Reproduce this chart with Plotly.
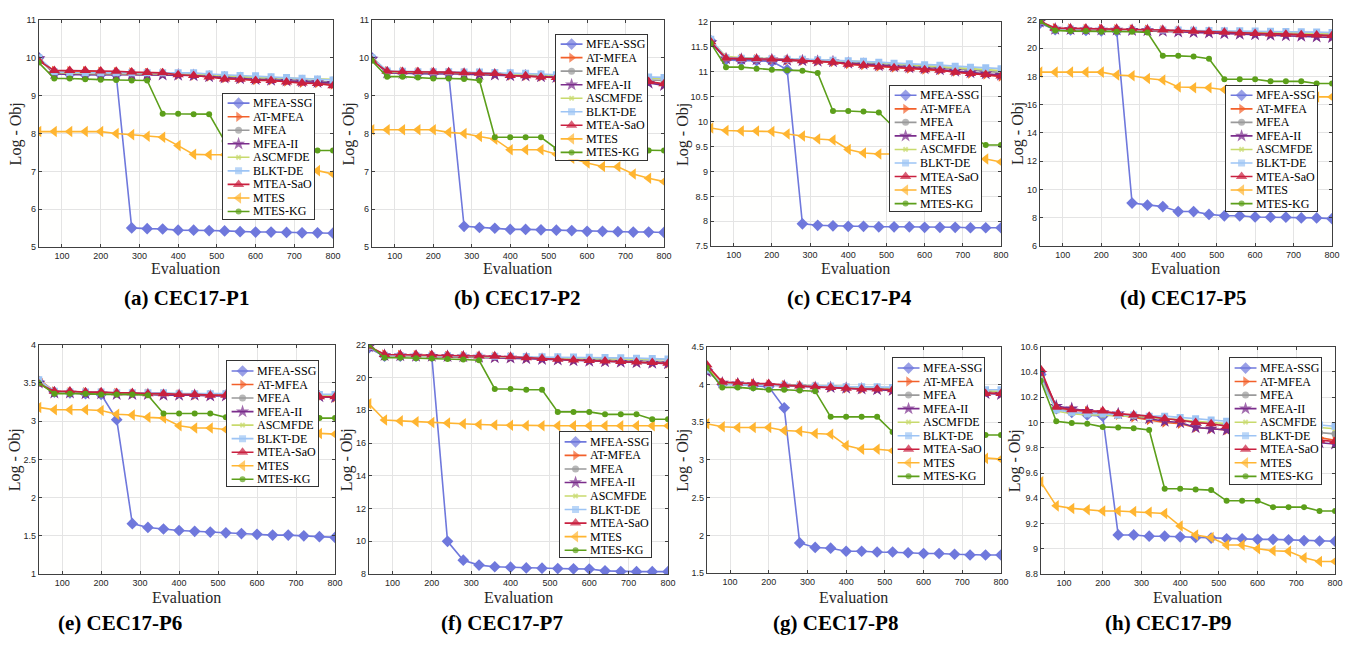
import plotly.graph_objects as go

W, H = 1346, 650

EVALS = [40, 80, 120, 160, 200, 240, 280, 320, 360, 400, 440, 480, 520, 560, 600, 640, 680, 720, 760, 800]
X_TICKS = [100, 200, 300, 400, 500, 600, 700, 800]
SERIES = ["MFEA-SSG", "AT-MFEA", "MFEA", "MFEA-II", "ASCMFDE", "BLKT-DE", "MTEA-SaO", "MTES", "MTES-KG"]
CAPTIONS = ["(a) CEC17-P1", "(b) CEC17-P2", "(c) CEC17-P4", "(d) CEC17-P5",
            "(e) CEC17-P6", "(f) CEC17-P7", "(g) CEC17-P8", "(h) CEC17-P9"]

# ---------------- (a) CEC17-P1 ----------------
P1_MFEA_SSG = [10.0, 9.58, 9.56, 9.55, 9.55, 9.55, 5.51, 5.49, 5.48, 5.45, 5.45, 5.44, 5.43, 5.41, 5.40, 5.40, 5.39, 5.38, 5.38, 5.37]
P1_AT_MFEA = [9.95, 9.65, 9.64, 9.64, 9.63, 9.62, 9.61, 9.60, 9.59, 9.55, 9.53, 9.50, 9.46, 9.44, 9.41, 9.40, 9.37, 9.34, 9.33, 9.29]
P1_MFEA = [9.97, 9.60, 9.58, 9.57, 9.57, 9.57, 9.57, 9.57, 9.57, 9.56, 9.55, 9.53, 9.50, 9.48, 9.46, 9.44, 9.42, 9.40, 9.38, 9.36]
P1_MFEA_II = [9.98, 9.58, 9.56, 9.55, 9.55, 9.55, 9.55, 9.55, 9.55, 9.54, 9.53, 9.50, 9.47, 9.45, 9.43, 9.41, 9.39, 9.37, 9.35, 9.33]
P1_ASCMFDE = [9.97, 9.61, 9.59, 9.58, 9.58, 9.58, 9.58, 9.58, 9.58, 9.58, 9.57, 9.55, 9.52, 9.50, 9.48, 9.47, 9.46, 9.45, 9.44, 9.43]
P1_BLKT_DE = [10.0, 9.63, 9.61, 9.60, 9.60, 9.60, 9.60, 9.60, 9.60, 9.60, 9.60, 9.57, 9.55, 9.53, 9.52, 9.50, 9.48, 9.46, 9.44, 9.41]
P1_MTEA_SaO = [9.92, 9.66, 9.66, 9.66, 9.65, 9.64, 9.62, 9.61, 9.60, 9.55, 9.53, 9.49, 9.44, 9.43, 9.40, 9.40, 9.36, 9.33, 9.32, 9.26]
P1_MTES = [8.05, 8.05, 8.05, 8.05, 8.05, 8.00, 7.97, 7.93, 7.90, 7.68, 7.45, 7.44, 7.44, 7.35, 7.26, 7.20, 7.14, 7.08, 7.02, 6.93]
P1_MTES_KG = [9.87, 9.45, 9.45, 9.43, 9.42, 9.41, 9.40, 9.40, 8.52, 8.52, 8.51, 8.51, 7.80, 7.78, 7.77, 7.66, 7.65, 7.64, 7.55, 7.55]

# ---------------- (b) CEC17-P2 ----------------
P2_MFEA_SSG = [10.0, 9.62, 9.60, 9.58, 9.58, 9.58, 5.55, 5.52, 5.50, 5.47, 5.47, 5.46, 5.45, 5.44, 5.42, 5.42, 5.41, 5.40, 5.40, 5.39]
P2_AT_MFEA = [9.95, 9.64, 9.63, 9.62, 9.61, 9.60, 9.59, 9.58, 9.56, 9.53, 9.52, 9.50, 9.48, 9.46, 9.45, 9.43, 9.40, 9.38, 9.36, 9.30]
P2_MFEA = [9.98, 9.62, 9.61, 9.60, 9.60, 9.60, 9.59, 9.58, 9.58, 9.56, 9.55, 9.53, 9.52, 9.50, 9.48, 9.46, 9.44, 9.42, 9.41, 9.40]
P2_MFEA_II = [9.97, 9.60, 9.59, 9.58, 9.58, 9.58, 9.57, 9.56, 9.55, 9.53, 9.52, 9.50, 9.48, 9.46, 9.44, 9.42, 9.39, 9.36, 9.33, 9.27]
P2_ASCMFDE = [10.02, 9.63, 9.62, 9.61, 9.61, 9.61, 9.60, 9.60, 9.59, 9.58, 9.57, 9.56, 9.54, 9.53, 9.52, 9.50, 9.49, 9.47, 9.46, 9.45]
P2_BLKT_DE = [10.0, 9.65, 9.64, 9.63, 9.63, 9.63, 9.62, 9.62, 9.61, 9.60, 9.59, 9.57, 9.55, 9.54, 9.53, 9.52, 9.51, 9.50, 9.49, 9.48]
P2_MTEA_SaO = [9.93, 9.64, 9.63, 9.63, 9.62, 9.62, 9.60, 9.59, 9.58, 9.53, 9.52, 9.49, 9.48, 9.46, 9.44, 9.42, 9.40, 9.38, 9.37, 9.31]
P2_MTES = [8.10, 8.10, 8.10, 8.10, 8.10, 8.03, 8.00, 7.92, 7.85, 7.57, 7.57, 7.57, 7.45, 7.35, 7.22, 7.13, 7.12, 6.93, 6.82, 6.73]
P2_MTES_KG = [9.92, 9.50, 9.50, 9.48, 9.45, 9.45, 9.44, 9.40, 7.90, 7.90, 7.90, 7.90, 7.60, 7.60, 7.59, 7.58, 7.57, 7.56, 7.55, 7.55]

# ---------------- (c) CEC17-P4 ----------------
P4_MFEA_SSG = [11.62, 11.24, 11.22, 11.22, 11.20, 11.04, 7.95, 7.92, 7.91, 7.90, 7.90, 7.89, 7.89, 7.89, 7.88, 7.88, 7.88, 7.87, 7.87, 7.87]
P4_AT_MFEA = [11.60, 11.27, 11.26, 11.25, 11.24, 11.23, 11.22, 11.21, 11.19, 11.15, 11.13, 11.10, 11.08, 11.06, 11.04, 11.03, 11.00, 10.96, 10.94, 10.90]
P4_MFEA = [11.62, 11.28, 11.27, 11.26, 11.25, 11.25, 11.24, 11.23, 11.21, 11.19, 11.18, 11.16, 11.14, 11.12, 11.10, 11.08, 11.06, 11.04, 11.01, 10.98]
P4_MFEA_II = [11.58, 11.26, 11.25, 11.24, 11.24, 11.23, 11.22, 11.21, 11.20, 11.17, 11.15, 11.12, 11.10, 11.08, 11.06, 11.04, 11.01, 10.98, 10.96, 10.93]
P4_ASCMFDE = [11.63, 11.30, 11.28, 11.27, 11.26, 11.26, 11.25, 11.24, 11.23, 11.21, 11.20, 11.18, 11.16, 11.14, 11.12, 11.10, 11.08, 11.06, 11.04, 11.02]
P4_BLKT_DE = [11.65, 11.28, 11.27, 11.26, 11.26, 11.25, 11.25, 11.24, 11.23, 11.22, 11.21, 11.19, 11.17, 11.16, 11.14, 11.13, 11.11, 11.09, 11.08, 11.06]
P4_MTEA_SaO = [11.60, 11.27, 11.26, 11.26, 11.25, 11.24, 11.22, 11.21, 11.19, 11.15, 11.13, 11.10, 11.08, 11.06, 11.04, 11.03, 10.99, 10.96, 10.94, 10.91]
P4_MTES = [9.87, 9.82, 9.81, 9.81, 9.80, 9.75, 9.71, 9.65, 9.63, 9.44, 9.37, 9.35, 9.35, 9.33, 9.31, 9.30, 9.28, 9.27, 9.25, 9.19]
P4_MTES_KG = [11.57, 11.09, 11.09, 11.06, 11.04, 11.03, 11.02, 10.97, 10.21, 10.21, 10.20, 10.18, 9.88, 9.87, 9.86, 9.72, 9.71, 9.70, 9.53, 9.53]

# ---------------- (d) CEC17-P5 ----------------
P5_MFEA_SSG = [21.75, 21.30, 21.28, 21.25, 21.22, 21.20, 9.05, 8.90, 8.80, 8.45, 8.45, 8.25, 8.15, 8.15, 8.07, 8.05, 8.05, 8.00, 8.00, 7.95]
P5_AT_MFEA = [21.90, 21.40, 21.38, 21.36, 21.35, 21.34, 21.32, 21.30, 21.27, 21.22, 21.18, 21.14, 21.10, 21.06, 21.02, 20.99, 20.96, 20.93, 20.90, 20.85]
P5_MFEA = [21.88, 21.30, 21.28, 21.27, 21.26, 21.25, 21.24, 21.23, 21.21, 21.19, 21.17, 21.14, 21.11, 21.09, 21.06, 21.04, 21.02, 21.00, 20.98, 20.95]
P5_MFEA_II = [21.85, 21.35, 21.32, 21.30, 21.29, 21.28, 21.26, 21.24, 21.20, 21.15, 21.11, 21.07, 21.03, 20.99, 20.95, 20.92, 20.88, 20.85, 20.80, 20.75]
P5_ASCMFDE = [21.90, 21.32, 21.31, 21.30, 21.29, 21.28, 21.27, 21.26, 21.25, 21.23, 21.21, 21.19, 21.17, 21.15, 21.13, 21.11, 21.09, 21.07, 21.05, 21.02]
P5_BLKT_DE = [21.92, 21.35, 21.34, 21.33, 21.32, 21.31, 21.30, 21.29, 21.28, 21.27, 21.26, 21.25, 21.23, 21.22, 21.20, 21.19, 21.17, 21.15, 21.13, 21.10]
P5_MTEA_SaO = [21.90, 21.40, 21.39, 21.38, 21.37, 21.36, 21.33, 21.31, 21.28, 21.23, 21.19, 21.15, 21.11, 21.07, 21.03, 21.00, 20.97, 20.95, 20.92, 20.88]
P5_MTES = [18.30, 18.30, 18.30, 18.30, 18.30, 18.10, 18.05, 17.85, 17.75, 17.25, 17.20, 17.20, 17.05, 16.95, 16.85, 16.80, 16.70, 16.62, 16.55, 16.55]
P5_MTES_KG = [21.90, 21.25, 21.20, 21.20, 21.15, 21.15, 21.15, 21.10, 19.45, 19.45, 19.40, 19.25, 17.80, 17.80, 17.80, 17.65, 17.65, 17.65, 17.50, 17.50]

# ---------------- (e) CEC17-P6 ----------------
P6_MFEA_SSG = [3.52, 3.38, 3.37, 3.36, 3.35, 3.02, 1.66, 1.61, 1.59, 1.57, 1.56, 1.55, 1.54, 1.53, 1.52, 1.51, 1.51, 1.50, 1.49, 1.48]
P6_AT_MFEA = [3.55, 3.39, 3.38, 3.38, 3.37, 3.37, 3.36, 3.36, 3.35, 3.35, 3.34, 3.34, 3.34, 3.33, 3.33, 3.33, 3.32, 3.32, 3.32, 3.31]
P6_MFEA = [3.52, 3.38, 3.37, 3.37, 3.36, 3.36, 3.36, 3.35, 3.35, 3.35, 3.35, 3.34, 3.34, 3.34, 3.34, 3.33, 3.33, 3.33, 3.33, 3.33]
P6_MFEA_II = [3.50, 3.37, 3.37, 3.36, 3.36, 3.35, 3.35, 3.35, 3.34, 3.34, 3.34, 3.33, 3.33, 3.33, 3.33, 3.32, 3.32, 3.32, 3.32, 3.31]
P6_ASCMFDE = [3.53, 3.38, 3.38, 3.37, 3.37, 3.37, 3.36, 3.36, 3.36, 3.36, 3.35, 3.35, 3.35, 3.35, 3.34, 3.34, 3.34, 3.34, 3.34, 3.34]
P6_BLKT_DE = [3.54, 3.39, 3.38, 3.38, 3.38, 3.37, 3.37, 3.37, 3.37, 3.36, 3.36, 3.36, 3.36, 3.36, 3.35, 3.35, 3.35, 3.35, 3.35, 3.35]
P6_MTEA_SaO = [3.49, 3.39, 3.39, 3.38, 3.38, 3.37, 3.37, 3.36, 3.36, 3.35, 3.35, 3.34, 3.34, 3.34, 3.33, 3.33, 3.33, 3.32, 3.32, 3.32]
P6_MTES = [3.18, 3.15, 3.15, 3.15, 3.14, 3.09, 3.08, 3.05, 3.04, 2.94, 2.91, 2.91, 2.89, 2.88, 2.87, 2.86, 2.86, 2.85, 2.84, 2.83]
P6_MTES_KG = [3.50, 3.36, 3.36, 3.36, 3.35, 3.35, 3.35, 3.34, 3.10, 3.10, 3.10, 3.10, 3.05, 3.05, 3.05, 3.05, 3.05, 3.04, 3.04, 3.04]

# ---------------- (f) CEC17-P7 ----------------
P7_MFEA_SSG = [21.80, 21.30, 21.30, 21.30, 21.30, 10.00, 8.85, 8.55, 8.45, 8.42, 8.38, 8.36, 8.34, 8.32, 8.31, 8.20, 8.16, 8.15, 8.15, 8.15]
P7_AT_MFEA = [21.85, 21.40, 21.38, 21.36, 21.34, 21.32, 21.30, 21.28, 21.26, 21.23, 21.19, 21.15, 21.11, 21.07, 21.03, 21.00, 20.97, 20.94, 20.90, 20.85]
P7_MFEA = [21.90, 21.32, 21.30, 21.29, 21.28, 21.27, 21.26, 21.25, 21.24, 21.22, 21.20, 21.17, 21.14, 21.11, 21.08, 21.05, 21.03, 21.01, 20.99, 20.97]
P7_MFEA_II = [21.88, 21.35, 21.33, 21.31, 21.30, 21.29, 21.27, 21.25, 21.22, 21.19, 21.15, 21.11, 21.07, 21.03, 21.00, 20.97, 20.94, 20.91, 20.88, 20.84]
P7_ASCMFDE = [21.92, 21.33, 21.32, 21.31, 21.30, 21.30, 21.29, 21.28, 21.27, 21.26, 21.24, 21.22, 21.20, 21.18, 21.17, 21.15, 21.14, 21.13, 21.12, 21.10]
P7_BLKT_DE = [21.90, 21.35, 21.34, 21.33, 21.32, 21.32, 21.31, 21.30, 21.30, 21.29, 21.28, 21.27, 21.26, 21.25, 21.23, 21.22, 21.20, 21.18, 21.15, 21.12]
P7_MTEA_SaO = [21.90, 21.40, 21.39, 21.38, 21.37, 21.36, 21.33, 21.31, 21.29, 21.26, 21.20, 21.15, 21.11, 21.07, 21.04, 21.00, 20.97, 20.94, 20.91, 20.87]
P7_MTES = [18.40, 17.40, 17.35, 17.30, 17.25, 17.22, 17.18, 17.13, 17.10, 17.08, 17.06, 17.05, 17.05, 17.05, 17.05, 17.05, 17.05, 17.05, 17.05, 17.05]
P7_MTES_KG = [22.00, 21.20, 21.20, 21.18, 21.15, 21.12, 21.10, 21.05, 19.30, 19.30, 19.25, 19.25, 17.90, 17.90, 17.90, 17.75, 17.75, 17.75, 17.45, 17.45]

# ---------------- (g) CEC17-P8 ----------------
P8_MFEA_SSG = [4.20, 4.00, 4.00, 3.98, 3.97, 3.69, 1.90, 1.84, 1.83, 1.79, 1.79, 1.78, 1.78, 1.77, 1.76, 1.76, 1.75, 1.74, 1.74, 1.74]
P8_AT_MFEA = [4.22, 4.02, 4.01, 4.01, 4.00, 3.99, 3.98, 3.97, 3.96, 3.95, 3.94, 3.94, 3.93, 3.92, 3.92, 3.91, 3.90, 3.90, 3.89, 3.88]
P8_MFEA = [4.20, 4.01, 4.00, 4.00, 3.99, 3.99, 3.98, 3.98, 3.97, 3.96, 3.96, 3.95, 3.94, 3.94, 3.93, 3.93, 3.92, 3.91, 3.91, 3.90]
P8_MFEA_II = [4.17, 4.02, 4.01, 4.00, 3.99, 3.98, 3.97, 3.96, 3.96, 3.95, 3.94, 3.93, 3.92, 3.91, 3.91, 3.90, 3.89, 3.88, 3.88, 3.87]
P8_ASCMFDE = [4.21, 4.01, 4.00, 4.00, 4.00, 3.99, 3.99, 3.98, 3.98, 3.97, 3.97, 3.96, 3.95, 3.95, 3.94, 3.94, 3.93, 3.92, 3.92, 3.91]
P8_BLKT_DE = [4.19, 4.00, 4.00, 3.99, 3.99, 3.99, 3.98, 3.98, 3.98, 3.97, 3.97, 3.97, 3.96, 3.96, 3.95, 3.95, 3.94, 3.94, 3.93, 3.93]
P8_MTEA_SaO = [4.26, 4.03, 4.02, 4.01, 4.01, 3.99, 3.98, 3.97, 3.96, 3.95, 3.94, 3.94, 3.93, 3.92, 3.91, 3.91, 3.90, 3.89, 3.88, 3.88]
P8_MTES = [3.48, 3.44, 3.43, 3.43, 3.43, 3.39, 3.38, 3.35, 3.34, 3.19, 3.14, 3.14, 3.12, 3.10, 3.08, 3.06, 3.05, 3.04, 3.02, 3.01]
P8_MTES_KG = [4.22, 3.96, 3.96, 3.95, 3.93, 3.93, 3.92, 3.91, 3.57, 3.57, 3.57, 3.57, 3.37, 3.37, 3.37, 3.35, 3.35, 3.35, 3.33, 3.33]

# ---------------- (h) CEC17-P9 ----------------
P9_MFEA_SSG = [10.38, 10.11, 10.08, 10.06, 10.05, 9.11, 9.11, 9.10, 9.10, 9.095, 9.09, 9.085, 9.08, 9.08, 9.075, 9.075, 9.072, 9.065, 9.062, 9.06]
P9_AT_MFEA = [10.40, 10.12, 10.10, 10.09, 10.08, 10.06, 10.04, 10.02, 10.00, 9.99, 9.96, 9.95, 9.94, 9.93, 9.92, 9.91, 9.90, 9.89, 9.88, 9.86]
P9_MFEA = [10.36, 10.11, 10.08, 10.07, 10.06, 10.06, 10.05, 10.04, 10.03, 10.02, 10.00, 9.99, 9.98, 9.97, 9.96, 9.95, 9.94, 9.93, 9.92, 9.91]
P9_MFEA_II = [10.39, 10.13, 10.11, 10.09, 10.08, 10.07, 10.05, 10.03, 10.01, 10.00, 9.96, 9.95, 9.94, 9.93, 9.91, 9.89, 9.87, 9.85, 9.84, 9.83]
P9_ASCMFDE = [10.35, 10.09, 10.07, 10.06, 10.06, 10.05, 10.05, 10.04, 10.03, 10.02, 10.01, 10.00, 9.99, 9.98, 9.98, 9.97, 9.97, 9.96, 9.96, 9.95]
P9_BLKT_DE = [10.33, 10.10, 10.08, 10.07, 10.07, 10.06, 10.06, 10.05, 10.05, 10.04, 10.03, 10.02, 10.01, 10.00, 10.00, 9.99, 9.99, 9.98, 9.98, 9.97]
P9_MTEA_SaO = [10.42, 10.12, 10.10, 10.09, 10.09, 10.07, 10.06, 10.05, 10.03, 10.02, 10.00, 9.99, 9.97, 9.96, 9.94, 9.92, 9.90, 9.88, 9.86, 9.85]
P9_MTES = [9.53, 9.34, 9.32, 9.31, 9.30, 9.30, 9.295, 9.29, 9.28, 9.18, 9.11, 9.09, 9.03, 9.03, 9.00, 8.985, 8.98, 8.93, 8.90, 8.90]
P9_MTES_KG = [10.33, 10.01, 9.995, 9.99, 9.965, 9.96, 9.955, 9.94, 9.475, 9.475, 9.47, 9.465, 9.38, 9.38, 9.38, 9.33, 9.33, 9.33, 9.30, 9.30]

PANEL_DATA = [
    [P1_MFEA_SSG, P1_AT_MFEA, P1_MFEA, P1_MFEA_II, P1_ASCMFDE, P1_BLKT_DE, P1_MTEA_SaO, P1_MTES, P1_MTES_KG],
    [P2_MFEA_SSG, P2_AT_MFEA, P2_MFEA, P2_MFEA_II, P2_ASCMFDE, P2_BLKT_DE, P2_MTEA_SaO, P2_MTES, P2_MTES_KG],
    [P4_MFEA_SSG, P4_AT_MFEA, P4_MFEA, P4_MFEA_II, P4_ASCMFDE, P4_BLKT_DE, P4_MTEA_SaO, P4_MTES, P4_MTES_KG],
    [P5_MFEA_SSG, P5_AT_MFEA, P5_MFEA, P5_MFEA_II, P5_ASCMFDE, P5_BLKT_DE, P5_MTEA_SaO, P5_MTES, P5_MTES_KG],
    [P6_MFEA_SSG, P6_AT_MFEA, P6_MFEA, P6_MFEA_II, P6_ASCMFDE, P6_BLKT_DE, P6_MTEA_SaO, P6_MTES, P6_MTES_KG],
    [P7_MFEA_SSG, P7_AT_MFEA, P7_MFEA, P7_MFEA_II, P7_ASCMFDE, P7_BLKT_DE, P7_MTEA_SaO, P7_MTES, P7_MTES_KG],
    [P8_MFEA_SSG, P8_AT_MFEA, P8_MFEA, P8_MFEA_II, P8_ASCMFDE, P8_BLKT_DE, P8_MTEA_SaO, P8_MTES, P8_MTES_KG],
    [P9_MFEA_SSG, P9_AT_MFEA, P9_MFEA, P9_MFEA_II, P9_ASCMFDE, P9_BLKT_DE, P9_MTEA_SaO, P9_MTES, P9_MTES_KG],
]

Y_RANGES = [[5, 11], [5, 11], [7.5, 12], [6, 22], [1, 4], [8, 22], [1.5, 4.5], [8.8, 10.6]]
Y_TICKS = [
    [5, 6, 7, 8, 9, 10, 11],
    [5, 6, 7, 8, 9, 10, 11],
    [7.5, 8, 8.5, 9, 9.5, 10, 10.5, 11, 11.5, 12],
    [6, 8, 10, 12, 14, 16, 18, 20, 22],
    [1, 1.5, 2, 2.5, 3, 3.5, 4],
    [8, 10, 12, 14, 16, 18, 20, 22],
    [1.5, 2, 2.5, 3, 3.5, 4, 4.5],
    [8.8, 9.0, 9.2, 9.4, 9.6, 9.8, 10.0, 10.2, 10.4, 10.6],
]

# ---------------- styles / layout (pixels) ----------------
STYLES = [
    dict(color="#6f78dc", symbol="diamond", size=9),
    dict(color="#f2602a", symbol="triangle-right", size=9),
    dict(color="#9a9a9a", symbol="circle", size=7),
    dict(color="#7b2d8b", symbol="star", size=10),
    dict(color="#c8da6c", symbol="x", size=5),
    dict(color="#9dc4f4", symbol="square", size=7),
    dict(color="#c9203f", symbol="triangle-up", size=10),
    dict(color="#ffb531", symbol="triangle-left", size=10),
    dict(color="#5c9f1a", symbol="circle", size=6),
]

# plot box: x0, x1, y0(top), y1(bottom)
BOXES = [
    (39, 335, 15, 246), (374, 668, 15, 246), (715, 1007, 17, 245), (1046, 1340, 15, 245),
    (39, 337, 345, 578), (371, 672, 345, 578), (711, 1007, 347, 577), (1047, 1343, 347, 578),
]
LEGEND_POS = [(224, 90), (559, 30), (895, 82), (1233, 82), (228, 362), (563, 434), (898, 359), (1237, 359)]
LEG_W, LEG_H = 92, 127
YLABEL_X = [17, 352, 687, 1024, 15, 349, 687, 1021]
CAPTION_X = [188, 521, 855, 1191, 121, 505, 840, 1175]
CAPTION_Y = [298, 298, 298, 298, 628, 628, 628, 628]
XLABEL_Y = [268, 268, 268, 268, 602, 602, 602, 602]

AXIS_COLOR = "#404040"
GRID_COLOR = "#e4e4e4"
SERIF = "Liberation Serif, Times New Roman, serif"
SANS = "Liberation Sans, Arial, sans-serif"


def px_x(p):
    return p / W


def px_y(p):
    return 1 - p / H


fig = go.Figure()
layout = {}
annotations = []

for k in range(8):
    n = k + 1
    xs = "" if n == 1 else str(n)
    x0, x1, y0, y1 = BOXES[k]
    for i, name in enumerate(SERIES):
        st = STYLES[i]
        fig.add_trace(go.Scatter(
            x=EVALS, y=PANEL_DATA[k][i], xaxis="x" + xs, yaxis="y" + xs,
            mode="lines+markers", name=name, showlegend=False,
            line=dict(color=st["color"], width=1.6),
            marker=dict(symbol=st["symbol"], size=st["size"], color=st["color"], line=dict(width=0)),
        ))
    layout["xaxis" + xs] = dict(
        domain=[px_x(x0), px_x(x1)], range=[40, 800], anchor="y" + xs,
        tickvals=X_TICKS, ticktext=[str(v) for v in X_TICKS],
        showgrid=True, gridcolor=GRID_COLOR, gridwidth=1, zeroline=False,
        showline=True, linecolor=AXIS_COLOR, linewidth=1, mirror="ticks",
        ticks="inside", ticklen=3, tickcolor=AXIS_COLOR,
        tickfont=dict(family=SANS, size=9, color="#262626"), fixedrange=True,
    )
    layout["yaxis" + xs] = dict(
        domain=[px_y(y1), px_y(y0)], range=Y_RANGES[k], anchor="x" + xs,
        tickvals=Y_TICKS[k], ticktext=[f"{v:g}" for v in Y_TICKS[k]],
        showgrid=True, gridcolor=GRID_COLOR, gridwidth=1, zeroline=False,
        showline=True, linecolor=AXIS_COLOR, linewidth=1, mirror="ticks",
        ticks="inside", ticklen=3, tickcolor=AXIS_COLOR,
        tickfont=dict(family=SANS, size=9, color="#262626"), fixedrange=True,
    )
    # axis titles & caption
    annotations.append(dict(text="Evaluation", x=px_x((x0 + x1) / 2), y=px_y(XLABEL_Y[k]),
                            xref="paper", yref="paper", xanchor="center", yanchor="middle",
                            showarrow=False, font=dict(family=SERIF, size=16, color="#262626")))
    annotations.append(dict(text="Log - Obj", x=px_x(YLABEL_X[k]), y=px_y((y0 + y1) / 2),
                            xref="paper", yref="paper", xanchor="center", yanchor="middle",
                            textangle=-90, showarrow=False,
                            font=dict(family=SERIF, size=16, color="#262626")))
    annotations.append(dict(text="<b>" + CAPTIONS[k] + "</b>", x=px_x(CAPTION_X[k]), y=px_y(CAPTION_Y[k]),
                            xref="paper", yref="paper", xanchor="center", yanchor="middle",
                            showarrow=False, font=dict(family=SERIF, size=21, color="#000000")))

# custom legends drawn as small overlay subplots
for k in range(8):
    n = k + 9
    lx, ly = LEGEND_POS[k]
    for i, name in enumerate(SERIES):
        st = STYLES[i]
        r = 1 - (9.7 + 13.75 * i) / LEG_H
        fig.add_trace(go.Scatter(
            x=[5, 16, 27], y=[r, r, r], xaxis=f"x{n}", yaxis=f"y{n}",
            mode="lines+markers", showlegend=False, hoverinfo="skip",
            line=dict(color=st["color"], width=1.6),
            marker=dict(symbol=st["symbol"], size=[0, st["size"], 0], color=st["color"], line=dict(width=0)),
        ))
        annotations.append(dict(text=name, x=28.5, y=r, xref=f"x{n}", yref=f"y{n}",
                                xanchor="left", yanchor="middle", showarrow=False,
                                font=dict(family=SERIF, size=12, color="#000000")))
    layout[f"xaxis{n}"] = dict(domain=[px_x(lx), px_x(lx + LEG_W)], range=[0, LEG_W], anchor=f"y{n}",
                               showgrid=False, zeroline=False, showticklabels=False, ticks="",
                               showline=True, mirror=True, linecolor="#333333", linewidth=1, fixedrange=True)
    layout[f"yaxis{n}"] = dict(domain=[px_y(ly + LEG_H), px_y(ly)], range=[0, 1], anchor=f"x{n}",
                               showgrid=False, zeroline=False, showticklabels=False, ticks="",
                               showline=True, mirror=True, linecolor="#333333", linewidth=1, fixedrange=True)

fig.update_layout(
    width=W, height=H, margin=dict(l=0, r=0, t=0, b=0),
    paper_bgcolor="#ffffff", plot_bgcolor="#fffffe",
    showlegend=False, annotations=annotations, hovermode=False,
    **layout,
)

fig.write_html("out.html", config={"displayModeBar": False})
